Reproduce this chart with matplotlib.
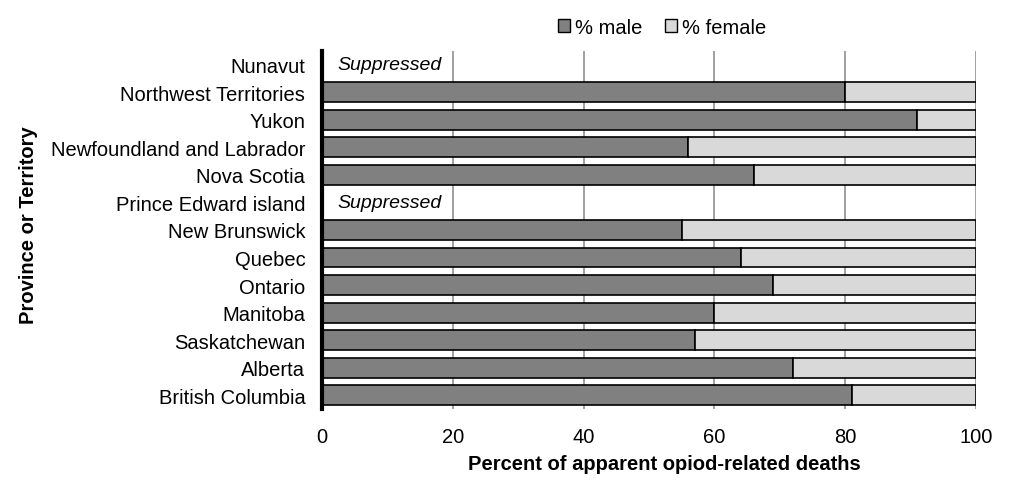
import matplotlib
matplotlib.use("Agg")
import matplotlib.pyplot as plt
from matplotlib.patches import Patch

plt.rcParams['font.family'] = ['Liberation Sans', 'DejaVu Sans']

provinces = ["Nunavut", "Northwest Territories", "Yukon", "Newfoundland and Labrador",
             "Nova Scotia", "Prince Edward island", "New Brunswick", "Quebec", "Ontario",
             "Manitoba", "Saskatchewan", "Alberta", "British Columbia"]
male = [None, 80, 91, 56, 66, None, 55, 64, 69, 60, 57, 72, 81]
female = [None if m is None else 100 - m for m in male]
suppressed_label = "Suppressed"
xticks = [0, 20, 40, 60, 80, 100]

male_color = "#808080"
female_color = "#d9d9d9"
FS = 14.5

fig = plt.figure(figsize=(10.1, 4.85), dpi=100)
ax = fig.add_axes([322/1010, 1-410/485, (976-322)/1010, (410-52)/485])

ys = list(range(len(provinces)))
for y, m, f in zip(ys, male, female):
    if m is None:
        ax.text(2.3, y, suppressed_label, style='italic', fontsize=14,
                va='center', ha='left')
        continue
    ax.barh(y, m, height=0.72, color=male_color, edgecolor='black', linewidth=1.2, zorder=3)
    ax.barh(y, f, left=m, height=0.72, color=female_color, edgecolor='black', linewidth=1.2, zorder=3)

ax.set_xlim(0, 100)
ax.set_ylim(len(provinces) - 0.5, -0.5)
ax.set_yticks(ys)
ax.set_yticklabels(provinces, fontsize=FS)
ax.set_xticks(xticks)
ax.set_xticklabels([str(t) for t in xticks], fontsize=FS)
ax.tick_params(axis='both', length=0)
ax.tick_params(axis='y', pad=12)
ax.tick_params(axis='x', pad=13)
ax.xaxis.grid(True, color='#999999', linewidth=1.3, zorder=0)
ax.set_axisbelow(True)
for s in ['top', 'right', 'bottom']:
    ax.spines[s].set_visible(False)
ax.spines['left'].set_linewidth(3)
ax.spines['left'].set_color('black')
ax.spines['left'].set_zorder(4)

ax.set_xlabel("Percent of apparent opiod-related deaths", fontsize=FS, fontweight='bold')
ax.set_ylabel("Province or Territory", fontsize=FS, fontweight='bold')
ax.xaxis.set_label_coords((664-322)/654, -(465-410)/358)
ax.yaxis.set_label_coords(-(322-29)/654, (410-225)/358)
ax.xaxis.label.set_va('center')
ax.yaxis.label.set_va('center')

handles = [Patch(facecolor=male_color, edgecolor='black', label='% male'),
           Patch(facecolor=female_color, edgecolor='black', label='% female')]
fig.legend(handles=handles, loc='center', bbox_to_anchor=(662/1010, 1-28/485), ncol=2,
           frameon=False, fontsize=FS, handlelength=0.6, handleheight=0.6,
           handletextpad=0.25, columnspacing=1.1)

fig.savefig("out.png", dpi=100)
